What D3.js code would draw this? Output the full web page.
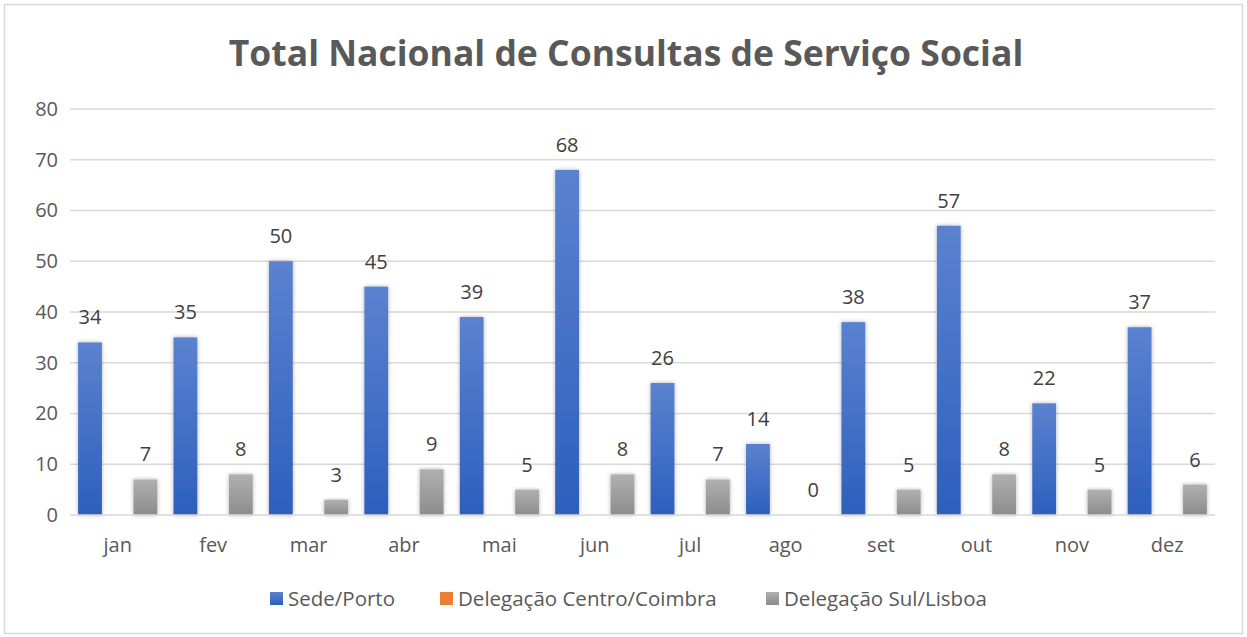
<!DOCTYPE html>
<html>
<head>
<meta charset="utf-8">
<script src="https://cdn.jsdelivr.net/npm/d3@7.9.0/dist/d3.min.js"></script>
<style>
  body { margin: 0; background: #fff; }
  svg { display: block; font-family: "Open Sans", "Noto Sans", sans-serif; }
</style>
</head>
<body>
<svg id="chart" width="1247" height="637"></svg>
<script>
const months = ['jan', 'fev', 'mar', 'abr', 'mai', 'jun', 'jul', 'ago', 'set', 'out', 'nov', 'dez'];
const seriesNames = ['Sede/Porto', 'Delegação Centro/Coimbra', 'Delegação Sul/Lisboa'];
const porto = [34, 35, 50, 45, 39, 68, 26, 14, 38, 57, 22, 37];
const coimbra = [0, 0, 0, 0, 0, 0, 0, 0, 0, 0, 0, 0];
const lisboa = [7, 8, 3, 9, 5, 8, 7, 0, 5, 8, 5, 6];
const yTicks = [0, 10, 20, 30, 40, 50, 60, 70, 80];

const values = [porto, coimbra, lisboa];
const showLabels = [true, false, true];
const fills = ['url(#gBlue)', '#ed7d31', 'url(#gGray)'];

const svg = d3.select('#chart');
const W = 1247, H = 637;
const m = { left: 70, right: 32, top: 109, bottom: 122 };

// frame
svg.append('rect')
  .attr('x', 4.5).attr('y', 4.5)
  .attr('width', W - 9).attr('height', H - 8)
  .attr('fill', '#fff').attr('stroke', '#d9d9d9').attr('stroke-width', 1.5);

const defs = svg.append('defs');
function grad(id, top, bottom) {
  const g = defs.append('linearGradient').attr('id', id)
    .attr('x1', 0).attr('y1', 0).attr('x2', 0).attr('y2', 1);
  g.append('stop').attr('offset', '0%').attr('stop-color', top);
  g.append('stop').attr('offset', '100%').attr('stop-color', bottom);
}
grad('gBlue', '#5b82cf', '#2d5fbd');
grad('gGray', '#b0b0b0', '#8c8c8c');

const shadow = defs.append('filter').attr('id', 'shadow')
  .attr('x', '-30%').attr('y', '-10%').attr('width', '160%').attr('height', '130%');
shadow.append('feDropShadow').attr('dx', 0).attr('dy', 0)
  .attr('stdDeviation', 2).attr('flood-color', '#000').attr('flood-opacity', 0.3);

const x0 = d3.scaleBand()
  .domain(months)
  .range([m.left, W - m.right])
  .paddingInner(0.17)
  .paddingOuter(0.085);

const x1 = d3.scaleBand()
  .domain(d3.range(3))
  .range([0, x0.bandwidth()])
  .paddingInner(0.14);

const y = d3.scaleLinear()
  .domain([0, 80])
  .range([H - m.bottom, m.top]);

// title
svg.append('text')
  .attr('x', 626).attr('y', 66)
  .attr('text-anchor', 'middle')
  .attr('font-size', 35.5).attr('font-weight', 'bold')
  .attr('fill', '#595959')
  .text('Total Nacional de Consultas de Serviço Social');

// gridlines
svg.append('g')
  .selectAll('line')
  .data(yTicks.filter(d => d > 0))
  .join('line')
  .attr('x1', m.left).attr('x2', W - m.right)
  .attr('y1', d => y(d)).attr('y2', d => y(d))
  .attr('stroke', '#d9d9d9').attr('stroke-width', 1.5);

// y axis labels
const yAxis = d3.axisLeft(y).tickValues(yTicks).tickSize(0).tickPadding(12);
const gy = svg.append('g').attr('transform', `translate(${m.left},0)`).call(yAxis);
gy.select('.domain').remove();
gy.selectAll('text')
  .attr('font-size', 20).attr('fill', '#595959')
  .attr('font-family', '"Open Sans", sans-serif');

// bars
const groups = svg.append('g')
  .selectAll('g')
  .data(months)
  .join('g')
  .attr('transform', d => `translate(${x0(d)},0)`);

groups.selectAll('rect')
  .data((d, i) => values.map((v, s) => ({ s, v: v[i] })))
  .join('rect')
  .attr('x', d => x1(d.s))
  .attr('width', x1.bandwidth())
  .attr('y', d => y(d.v))
  .attr('height', d => y(0) - y(d.v))
  .attr('fill', d => fills[d.s])
  .attr('filter', 'url(#shadow)');

groups.selectAll('text')
  .data((d, i) => values.map((v, s) => ({ s, v: v[i] })).filter(d => showLabels[d.s]))
  .join('text')
  .attr('x', d => x1(d.s) + x1.bandwidth() / 2)
  .attr('y', d => y(d.v) - 18)
  .attr('text-anchor', 'middle')
  .attr('font-size', 20).attr('fill', '#404040')
  .text(d => d.v);

// x axis
svg.append('line')
  .attr('x1', m.left).attr('x2', W - m.right)
  .attr('y1', y(0)).attr('y2', y(0))
  .attr('stroke', '#d9d9d9').attr('stroke-width', 1.5);

const xAxis = d3.axisBottom(x0).tickSize(0).tickPadding(23);
const gx = svg.append('g').attr('transform', `translate(0,${y(0)})`).call(xAxis);
gx.select('.domain').remove();
gx.selectAll('text')
  .attr('font-size', 20).attr('fill', '#595959')
  .attr('font-family', '"Open Sans", sans-serif');

// legend
const legendX = [270, 440, 766];
const legend = svg.append('g').attr('transform', 'translate(0,599)');
const li = legend.selectAll('g')
  .data(seriesNames)
  .join('g')
  .attr('transform', (d, i) => `translate(${legendX[i]},0)`);
li.append('rect')
  .attr('x', 0).attr('y', -7).attr('width', 13).attr('height', 13)
  .attr('fill', (d, i) => fills[i]);
li.append('text')
  .attr('x', 18).attr('y', 7)
  .attr('font-size', 20.5).attr('fill', '#595959')
  .text(d => d);
</script>
</body>
</html>
